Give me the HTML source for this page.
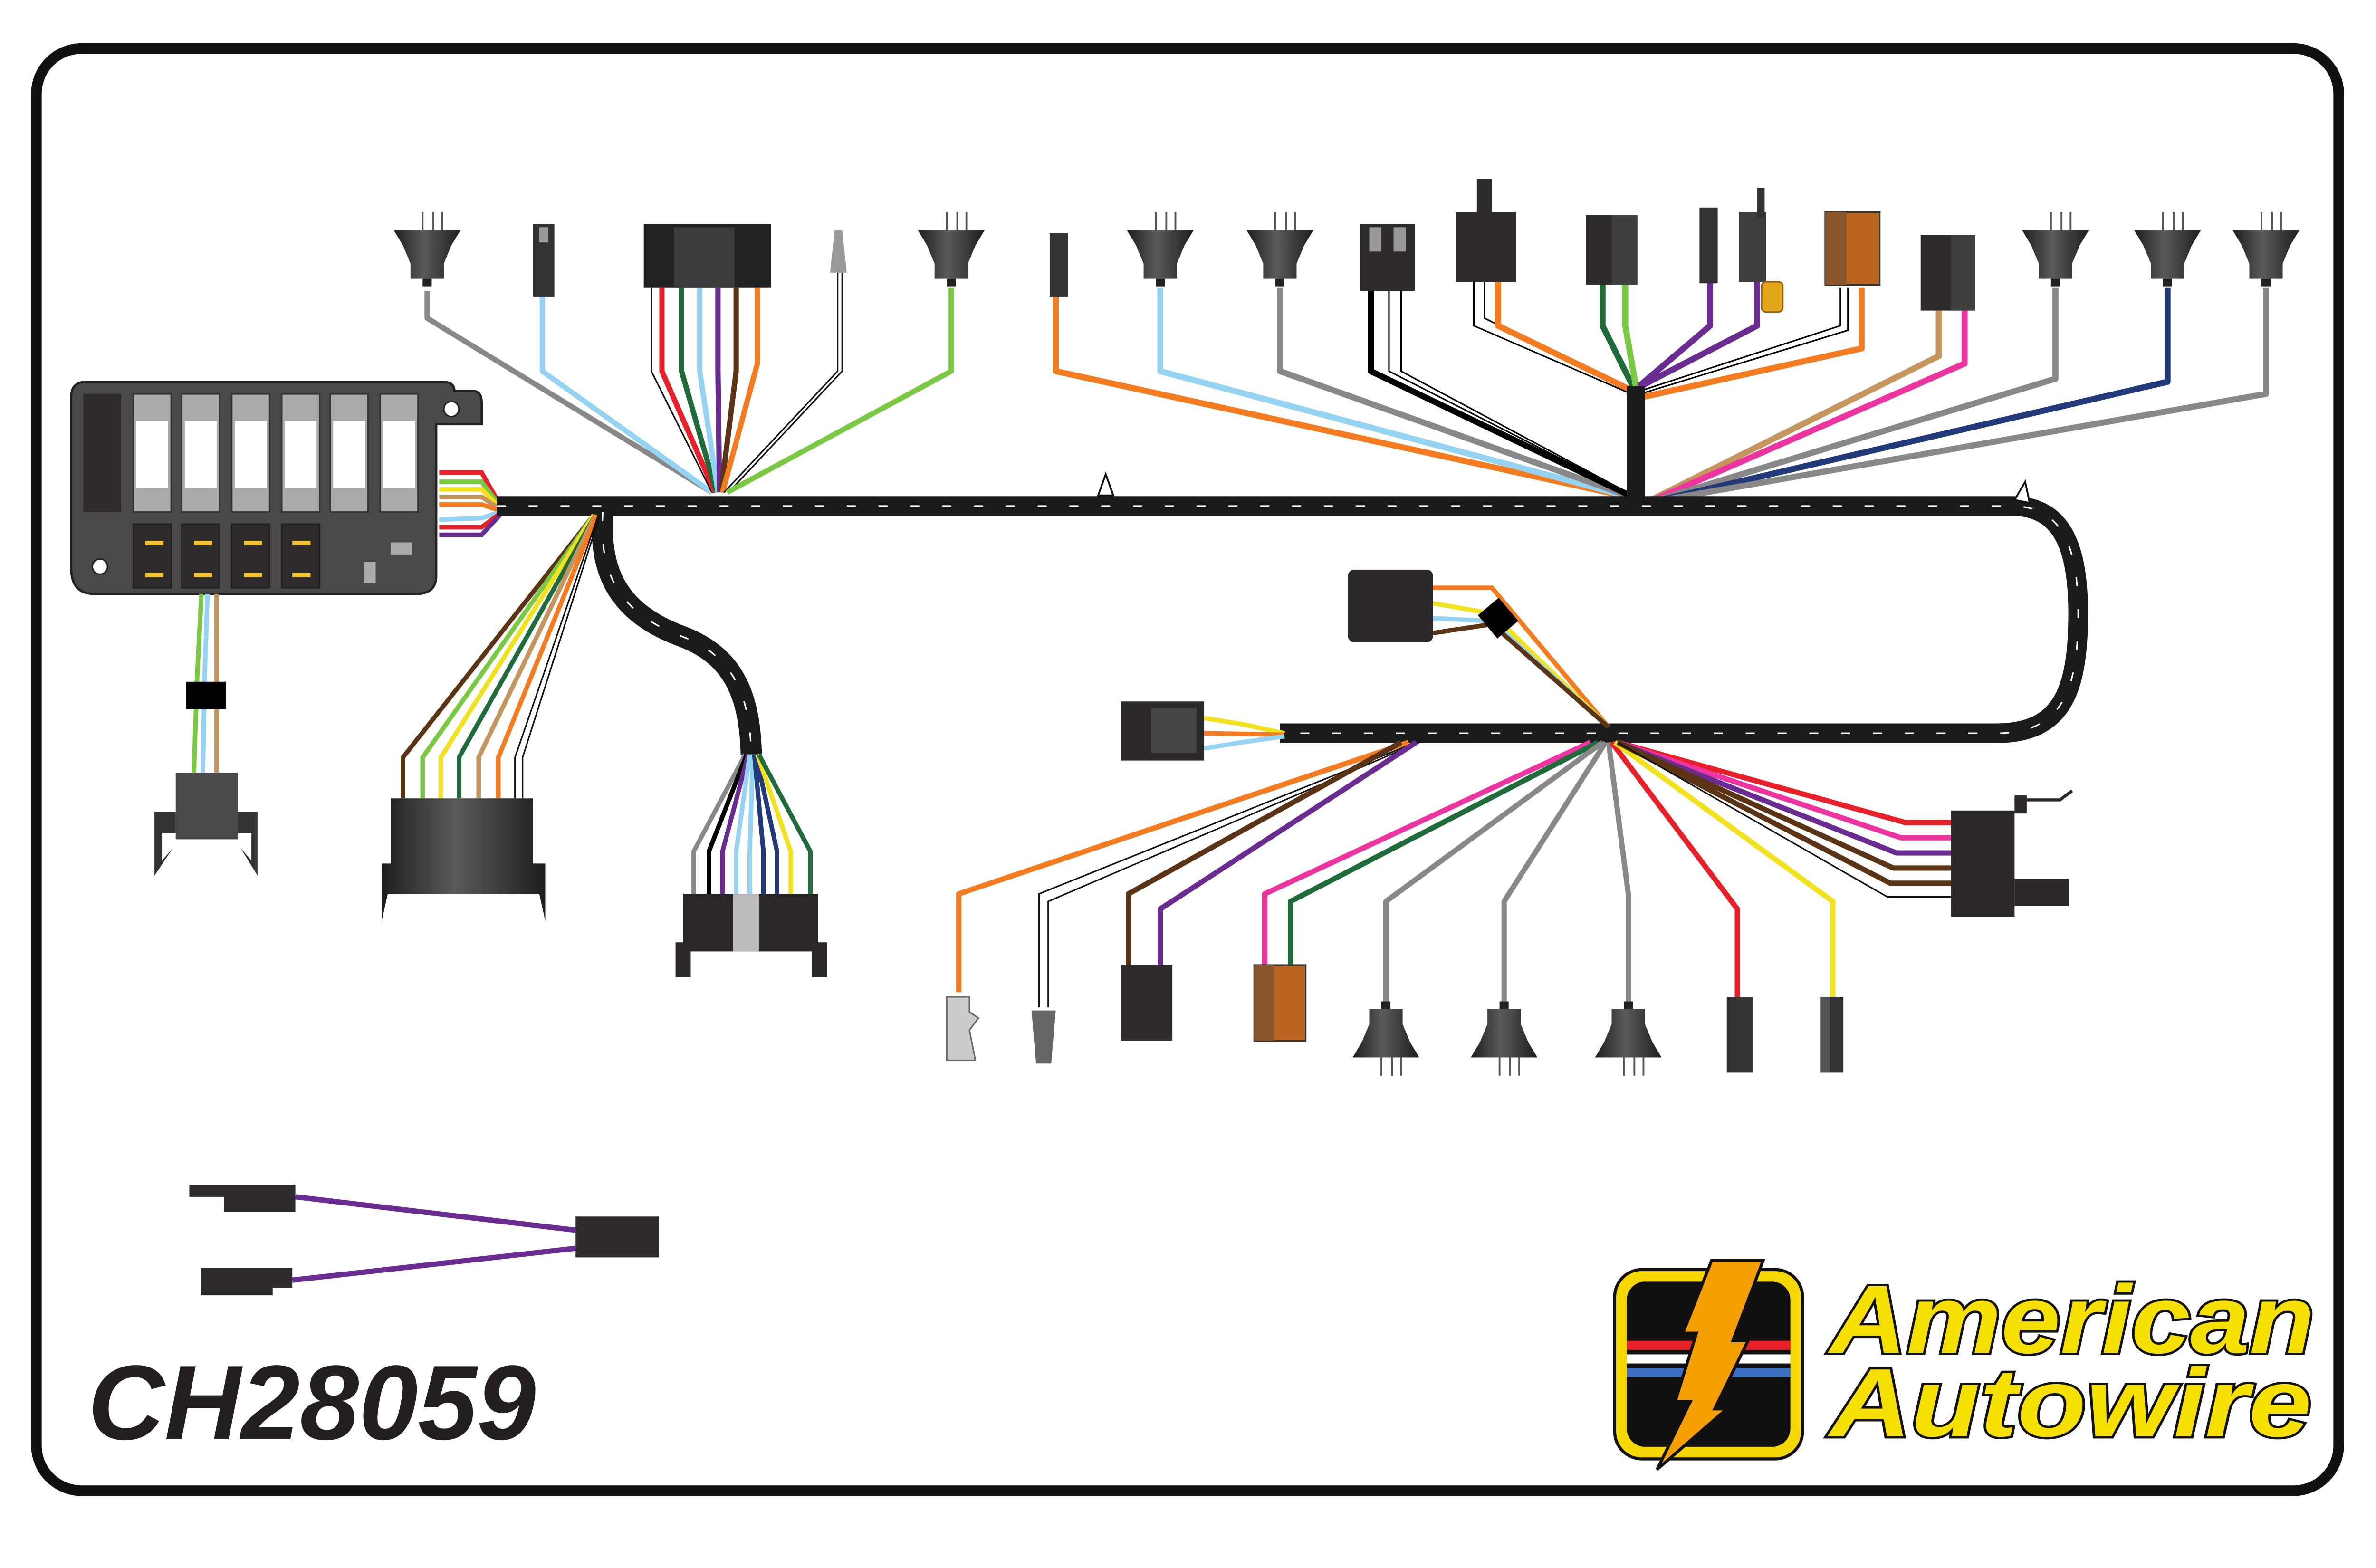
<!DOCTYPE html>
<html><head><meta charset="utf-8"><style>
html,body{margin:0;padding:0;background:#fff}
svg{display:block}
</style></head><body>
<svg width="5100" height="3300" viewBox="0 0 1600 1035" preserveAspectRatio="none" xmlns="http://www.w3.org/2000/svg">
<defs>
<linearGradient id="sg" x1="0" x2="1"><stop offset="0" stop-color="#1e1e1e"/><stop offset="0.45" stop-color="#5a5a5a"/><stop offset="1" stop-color="#1e1e1e"/></linearGradient>
<g id="sock">
 <path d="M-3,-12 v12 M4,-12 v12 M10,-12 v12" stroke="#555" stroke-width="1.2" fill="none"/>
 <path d="M-22,0 H22 L16,10 L11,22 V32 H-11 V22 L-16,10 Z" fill="url(#sg)"/>
 <rect x="-3" y="32" width="6" height="5" fill="#222"/>
</g>
<g id="sockd" transform="scale(1,-1)"><use href="#sock"/></g>
</defs>
<rect x="0" y="0" width="1600" height="1035" fill="#fff"/>
<rect x="24" y="32" width="1520" height="952" rx="30" fill="none" stroke="#111" stroke-width="7"/>

<g fill="none" stroke-linejoin="round">
 <polyline points="282,192 282,210 470,325" stroke="#888" stroke-width="3.5"/>
 <polyline points="358,195 358,245 470,325" stroke="#95d3f2" stroke-width="3.5"/>
 <polyline points="430,190 430,245 470,325" stroke="#111" stroke-width="1"/>
 <polyline points="437,190 437,245 472,325" stroke="#e8202a" stroke-width="3.5"/>
 <polyline points="450,190 450,245 473,325" stroke="#1f6b3a" stroke-width="3.5"/>
 <polyline points="462,190 462,245 474,325" stroke="#95d3f2" stroke-width="3.5"/>
 <polyline points="474,190 474,245 475,325" stroke="#6a2c91" stroke-width="3.5"/>
 <polyline points="486,190 486,245 476,325" stroke="#5b3415" stroke-width="3.5"/>
 <polyline points="500,190 500,240 477,325" stroke="#f47b20" stroke-width="3.5"/>
 <polyline points="553,180 553,245 478,325" stroke="#111" stroke-width="1"/>
 <polyline points="556,180 556,245 481,325" stroke="#111" stroke-width="1"/>
 <polyline points="628,190 628,245 480,325" stroke="#7ac943" stroke-width="3.5"/>
</g>
<g fill="none" stroke-linejoin="round" stroke-width="4">
 <polyline points="697,195 697,245 1075,328" stroke="#f47b20"/>
 <polyline points="766,190 766,245 1076,328" stroke="#95d3f2"/>
 <polyline points="845,190 845,245 1077,328" stroke="#888"/>
 <polyline points="905,192 905,245 1078,328" stroke="#000"/>
 <polyline points="917,192 917,245 1080,328" stroke="#000" stroke-width="1"/>
 <polyline points="925,192 925,245 1080,328" stroke="#000" stroke-width="1"/>
 <polyline points="973,186 973,215 1077,260" stroke="#000" stroke-width="1"/>
 <polyline points="980,186 980,210 1077,258" stroke="#000" stroke-width="1"/>
 <polyline points="989,186 989,215 1078,258" stroke="#f47b20"/>
 <polyline points="1058,186 1058,215 1078,255" stroke="#1f6b3a"/>
 <polyline points="1073,186 1073,215 1080,255" stroke="#7ac943"/>
 <polyline points="1129,186 1129,215 1082,255" stroke="#6a2c91"/>
 <polyline points="1160,186 1160,215 1083,255" stroke="#6a2c91"/>
 <polyline points="1215,190 1215,215 1083,258" stroke="#000" stroke-width="1"/>
 <polyline points="1220,190 1220,218 1083,260" stroke="#000" stroke-width="1"/>
 <polyline points="1229,190 1229,230 1085,262" stroke="#f47b20"/>
 <polyline points="1280,205 1280,235 1090,330" stroke="#c4965d"/>
 <polyline points="1297,205 1297,240 1092,330" stroke="#ee34a1"/>
 <polyline points="1357,190 1357,250 1094,330" stroke="#888"/>
 <polyline points="1431,190 1431,252 1096,330" stroke="#22397a"/>
 <polyline points="1496,190 1496,260 1098,330" stroke="#888"/>
</g>
<path d="M1080,255 V330" stroke="#1b1b1b" stroke-width="12"/>

<g fill="none" stroke-width="3">
 <polyline points="290,312 318,312 330,333" stroke="#e8202a"/>
 <polyline points="290,318 318,318 330,334" stroke="#7ac943"/>
 <polyline points="290,323 318,323 330,335" stroke="#f2e21d"/>
 <polyline points="290,328 318,328 330,336" stroke="#c4965d"/>
 <polyline points="290,333 318,333 330,337" stroke="#f47b20"/>
 <polyline points="290,343 318,342 330,338" stroke="#95d3f2"/>
 <polyline points="290,348 318,348 330,339" stroke="#e8202a"/>
 <polyline points="290,353 318,353 330,340" stroke="#6a2c91"/>
</g>

<path d="M328,334 H1328 C1362,334 1372,362 1372,405 C1372,455 1362,484 1318,484 H845" fill="none" stroke="#1b1b1b" stroke-width="13" stroke-linejoin="round"/>
<path d="M328,334 H1328 C1362,334 1372,362 1372,405 C1372,455 1362,484 1318,484 H845" fill="none" stroke="#fff" stroke-width="1" stroke-dasharray="6 15"/>
<path d="M398,338 C395,380 410,405 450,420 C485,433 495,460 496,498" fill="none" stroke="#1b1b1b" stroke-width="14"/>
<path d="M398,338 C395,380 410,405 450,420 C485,433 495,460 496,498" fill="none" stroke="#fff" stroke-width="1" stroke-dasharray="6 15"/>
<path d="M725,327 L730,313 L735,327 Z" fill="#fff" stroke="#111" stroke-width="1.2"/>
<path d="M1330,330 L1337,318 L1340,332 Z" fill="#fff" stroke="#111" stroke-width="1.2"/>

<g>
 <path d="M57,252 H292 Q300,252 300,258 H312 Q318,258 318,266 V280 H288 V380 Q288,392 275,392 H62 Q47,392 47,375 V262 Q47,252 57,252 Z" fill="#4a4949" stroke="#222" stroke-width="1.5"/>
 <circle cx="298" cy="270" r="5" fill="#fff" stroke="#222"/>
 <circle cx="66" cy="374" r="5" fill="#fff" stroke="#222"/>
 <rect x="55" y="260" width="25" height="78" fill="#2d2b2b"/>
 <g fill="#aaa" stroke="#333">
  <rect x="88" y="260" width="25" height="78"/><rect x="120" y="260" width="25" height="78"/><rect x="153" y="260" width="25" height="78"/><rect x="186" y="260" width="25" height="78"/><rect x="218" y="260" width="25" height="78"/><rect x="251" y="260" width="25" height="78"/>
 </g>
 <g fill="#fff">
  <rect x="90" y="278" width="21" height="44"/><rect x="122" y="278" width="21" height="44"/><rect x="155" y="278" width="21" height="44"/><rect x="188" y="278" width="21" height="44"/><rect x="220" y="278" width="21" height="44"/><rect x="253" y="278" width="21" height="44"/>
 </g>
 <g fill="#2d2b2b" stroke="#222">
  <rect x="88" y="346" width="25" height="42"/><rect x="120" y="346" width="25" height="42"/><rect x="153" y="346" width="25" height="42"/><rect x="186" y="346" width="25" height="42"/>
 </g>
 <g fill="#f2c12e">
  <rect x="96" y="357" width="12" height="3"/><rect x="128" y="357" width="12" height="3"/><rect x="161" y="357" width="12" height="3"/><rect x="193" y="357" width="12" height="3"/>
  <rect x="96" y="378" width="12" height="3"/><rect x="128" y="378" width="12" height="3"/><rect x="161" y="378" width="12" height="3"/><rect x="193" y="378" width="12" height="3"/>
 </g>
 <rect x="258" y="358" width="14" height="8" fill="#aaa"/>
 <rect x="240" y="371" width="8" height="14" fill="#aaa"/>
</g>
<g fill="none" stroke-width="3">
 <polyline points="133,392 130,450 128,510" stroke="#7ac943"/>
 <polyline points="137,392 135,450 134,510" stroke="#95d3f2"/>
 <polyline points="143,392 143,510" stroke="#c4965d"/>
</g>
<rect x="123" y="450" width="26" height="18" fill="#000"/>
<rect x="116" y="510" width="41" height="44" fill="#4a4949"/>
<path d="M102,536 H116 V550 H107 V568 L114,560 L102,578 Z M170,536 H157 V550 H166 V568 L159,560 L170,578 Z" fill="#333"/>

<g fill="none" stroke-width="3">
 <polyline points="392,340 266,500 266,527" stroke="#5b3415"/>
 <polyline points="392,340 279,500 279,527" stroke="#7ac943"/>
 <polyline points="392,340 291,500 291,527" stroke="#f2e21d"/>
 <polyline points="393,340 303,500 303,527" stroke="#1f6b3a"/>
 <polyline points="393,340 316,500 316,527" stroke="#c4965d"/>
 <polyline points="394,340 329,500 329,527" stroke="#f47b20"/>
 <polyline points="395,340 340,500 340,527" stroke="#111" stroke-width="1"/>
 <polyline points="396,340 345,500 345,527" stroke="#111" stroke-width="1"/>
</g>
<path d="M258,527 H352 V570 H360 V608 L356,590 H256 L252,608 V570 H258 Z" fill="url(#sg)"/>
<g fill="none" stroke-width="3">
 <polyline points="492,498 458,562 458,590" stroke="#888"/>
 <polyline points="493,498 468,562 468,590" stroke="#000"/>
 <polyline points="494,498 477,562 477,590" stroke="#6a2c91"/>
 <polyline points="495,498 486,562 486,590" stroke="#95d3f2"/>
 <polyline points="497,498 495,562 495,590" stroke="#95d3f2"/>
 <polyline points="498,498 504,562 504,590" stroke="#22397a"/>
 <polyline points="499,498 513,562 513,590" stroke="#22397a"/>
 <polyline points="500,498 522,562 522,590" stroke="#f2e21d"/>
 <polyline points="501,498 535,562 535,590" stroke="#1f6b3a"/>
</g>
<path d="M451,590 H540 V622 H546 V645 H536 V628 H456 V645 H446 V622 H451 Z" fill="#2a2828"/>
<rect x="484" y="590" width="17" height="38" fill="#bbb"/>

<use href="#sock" x="282" y="152"/>
<use href="#sock" x="628" y="152"/>
<use href="#sock" x="766" y="152"/>
<use href="#sock" x="845" y="152"/>
<use href="#sock" x="1357" y="152"/>
<use href="#sock" x="1431" y="152"/>
<use href="#sock" x="1496" y="152"/>
<rect x="352" y="148" width="14" height="48" fill="#333"/><rect x="356" y="150" width="6" height="10" fill="#999"/>
<path d="M425,148 H509 V190 H425 Z" fill="#222"/><rect x="445" y="150" width="40" height="40" fill="#3c3c3c"/>
<path d="M548,180 L551,152 H556 L559,180 Z" fill="#999"/>
<rect x="693" y="154" width="12" height="42" fill="#333"/>
<rect x="898" y="148" width="36" height="44" fill="#2d2b2b"/><rect x="904" y="150" width="8" height="16" fill="#999"/><rect x="920" y="150" width="8" height="16" fill="#999"/>
<rect x="961" y="140" width="40" height="46" fill="#2d2b2b"/><rect x="975" y="118" width="10" height="30" fill="#2d2b2b"/>
<rect x="1047" y="142" width="34" height="46" fill="#2d2b2b"/><rect x="1064" y="142" width="17" height="46" fill="#3e3e3e"/>
<rect x="1122" y="137" width="12" height="50" fill="#333"/>
<rect x="1148" y="140" width="18" height="46" fill="#3e3e3e"/><rect x="1160" y="124" width="5" height="20" fill="#333"/>
<rect x="1163" y="186" width="14" height="20" rx="3" fill="#e3a51a" stroke="#8a6210" stroke-width="1"/>
<rect x="1205" y="140" width="36" height="48" fill="#b8641f" stroke="#333"/><rect x="1205" y="140" width="14" height="48" fill="#8a552a"/>
<rect x="1268" y="155" width="36" height="50" fill="#2d2b2b"/><rect x="1288" y="155" width="16" height="50" fill="#3e3e3e"/>

<g fill="none" stroke-width="3">
 <polyline points="945,388 985,388 1062,480" stroke="#f47b20"/>
 <polyline points="945,398 985,405 1062,480" stroke="#f2e21d"/>
 <polyline points="945,408 985,410 1062,480" stroke="#95d3f2"/>
 <polyline points="945,418 985,412 1062,480" stroke="#5b3415"/>
</g>
<rect x="980" y="398" width="18" height="20" fill="#000" transform="rotate(-40 989 408)"/>
<rect x="890" y="376" width="56" height="48" rx="4" fill="#2a2828"/>
<g fill="none" stroke-width="3">
 <polyline points="795,474 820,478 848,484" stroke="#f2e21d"/>
 <polyline points="795,484 848,485" stroke="#f47b20"/>
 <polyline points="795,494 820,490 848,486" stroke="#95d3f2"/>
</g>
<rect x="740" y="463" width="55" height="39" fill="#2a2828"/><rect x="760" y="467" width="30" height="30" fill="#444"/>

<g fill="none" stroke-width="3.5" stroke-linejoin="round">
 <polyline points="930,490 633,590 633,655" stroke="#f47b20"/>
 <polyline points="935,490 686,590 686,665" stroke="#111" stroke-width="1"/>
 <polyline points="937,490 692,595 692,665" stroke="#111" stroke-width="1"/>
 <polyline points="925,490 745,590 745,640" stroke="#5b3415"/>
 <polyline points="935,490 766,600 766,640" stroke="#6a2c91"/>
 <polyline points="1050,490 835,590 835,640" stroke="#ee34a1"/>
 <polyline points="1055,490 852,595 852,640" stroke="#1f6b3a"/>
 <polyline points="1058,490 915,595 915,665" stroke="#888"/>
 <polyline points="1060,490 993,595 993,665" stroke="#888"/>
 <polyline points="1062,490 1075,590 1075,665" stroke="#888"/>
 <polyline points="1064,490 1147,600 1147,660" stroke="#e8202a"/>
 <polyline points="1066,490 1210,595 1210,660" stroke="#f2e21d"/>
 <polyline points="1068,490 1258,543 1290,543" stroke="#e8202a"/>
 <polyline points="1068,490 1255,553 1290,553" stroke="#ee34a1"/>
 <polyline points="1068,490 1252,563 1290,563" stroke="#6a2c91"/>
 <polyline points="1068,490 1250,573 1290,573" stroke="#5b3415"/>
 <polyline points="1068,490 1248,583 1290,583" stroke="#5b3415"/>
 <polyline points="1068,490 1246,592 1290,592" stroke="#111" stroke-width="1"/>
</g>
<path d="M625,658 H640 V668 L646,672 L640,680 L644,700 H625 Z" fill="#ccc" stroke="#666"/>
<path d="M681,667 H697 L694,702 H684 Z" fill="#666"/>
<rect x="740" y="637" width="34" height="50" fill="#2d2b2b"/>
<rect x="828" y="637" width="34" height="50" fill="#b8641f" stroke="#333"/><rect x="828" y="637" width="13" height="50" fill="#8a552a"/>
<use href="#sockd" x="915" y="698"/>
<use href="#sockd" x="993" y="698"/>
<use href="#sockd" x="1075" y="698"/>
<rect x="1140" y="658" width="17" height="50" fill="#333"/>
<rect x="1202" y="658" width="15" height="50" fill="#333"/><rect x="1202" y="658" width="6" height="50" fill="#555"/>
<path d="M1330,528 H1360 L1368,522" fill="none" stroke="#2a2828" stroke-width="2"/>
<rect x="1288" y="535" width="42" height="70" fill="#2a2828"/>
<rect x="1330" y="525" width="8" height="12" fill="#2a2828"/>
<rect x="1330" y="580" width="36" height="18" fill="#2a2828"/>

<g fill="none" stroke="#6a2c91" stroke-width="3.5">
 <polyline points="195,790 380,812"/>
 <polyline points="193,845 380,824"/>
</g>
<path d="M125,782 H195 V800 H148 V790 H125 Z" fill="#2d2b2b"/>
<path d="M133,837 H193 V850 H180 V855 H133 Z" fill="#2d2b2b"/>
<rect x="380" y="803" width="55" height="27" fill="#2d2b2b"/>

<text x="58" y="950" font-family="Liberation Sans, sans-serif" font-weight="bold" font-style="italic" font-size="70" fill="#231f20">CH28059</text>

<rect x="1066" y="838" width="124" height="125" rx="18" fill="#f5d800" stroke="#111" stroke-width="2"/>
<rect x="1074" y="846" width="108" height="109" rx="12" fill="#111"/>
<rect x="1074" y="885" width="108" height="6" fill="#e8202a"/>
<rect x="1074" y="894" width="108" height="6" fill="#fff"/>
<rect x="1074" y="903" width="108" height="6" fill="#3d6fc4"/>
<path d="M1130,832 L1164,832 L1144,885 L1154,885 L1132,930 L1140,930 L1094,970 L1116,925 L1106,925 L1120,880 L1111,880 Z" fill="#f5a000" stroke="#111" stroke-width="2"/>
<g font-family="Liberation Sans, sans-serif" font-weight="bold" font-style="italic" font-size="64" fill="#f5e000" stroke="#111" stroke-width="3" paint-order="stroke">
 <text x="1208" y="893" textLength="320" lengthAdjust="spacingAndGlyphs">American</text>
 <text x="1208" y="948" textLength="318" lengthAdjust="spacingAndGlyphs">Autowire</text>
</g>
</svg>
</body></html>
